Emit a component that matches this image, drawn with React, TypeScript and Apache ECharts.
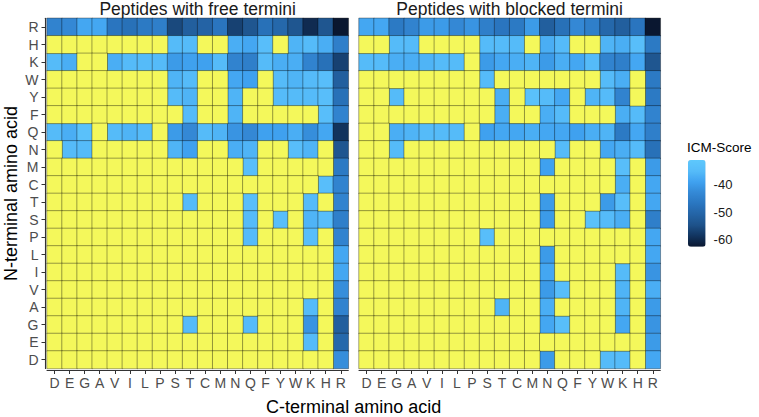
import React, { useEffect, useRef } from "react";
import * as echarts from "echarts";

// Amino acids in axis order (x: left→right, y: bottom→top)
const aminoAcids = ["D", "E", "G", "A", "V", "I", "L", "P", "S", "T", "C", "M", "N", "Q", "F", "Y", "W", "K", "H", "R"];

const _ = null;
// Rows listed from the top of the chart (N-terminal R) to the bottom (N-terminal D);
// columns follow aminoAcids (C-terminal D … R). null = no score (yellow cell).
const freeTermini: (number | null)[][] = [
  [-44, -43, -38, -38, -47, -48, -46, -45, -56, -52, -51, -47, -57, -54, -48, -50, -54, -60, -54, -63], // R
  [_, _, _, _, _, _, _, _, -35, -35, _, _, -37, -38, -34, _, -36, -35, -37, -45], // H
  [-35, -37, _, _, -37, -35, -35, -35, -40, -39, -39, -35, -44, -45, -35, -37, -37, -44, -48, -57], // K
  [_, _, _, _, _, _, _, _, -36, -35, _, _, -38, -39, _, -35, -36, -35, -34, -52], // W
  [_, _, _, _, _, _, _, _, -35, -36, _, _, -36, _, _, -35, -35, -35, -34, -48], // Y
  [_, _, _, _, _, _, _, _, _, -35, _, _, -36, _, _, _, _, _, -34, -44], // F
  [-35, -37, -33, _, -35, -36, -35, _, -40, -43, -35, -36, -41, -43, -39, -39, -37, -42, -38, -59], // Q
  [_, -35, -35, _, _, _, _, _, -36, -39, _, _, -37, -36, _, _, -34, -36, _, -54], // N
  [_, _, _, _, _, _, _, _, _, _, _, _, _, -34, _, _, _, _, _, -46], // M
  [_, _, _, _, _, _, _, _, _, _, _, _, _, _, _, _, _, _, -34, -44], // C
  [_, _, _, _, _, _, _, _, _, -35, _, _, _, -34, _, _, _, -35, _, -44], // T
  [_, _, _, _, _, _, _, _, _, _, _, _, _, -35, _, -34, _, -36, -34, -45], // S
  [_, _, _, _, _, _, _, _, _, _, _, _, _, -35, _, _, _, -34, _, -44], // P
  [_, _, _, _, _, _, _, _, _, _, _, _, _, _, _, _, _, _, _, -38], // L
  [_, _, _, _, _, _, _, _, _, _, _, _, _, _, _, _, _, _, _, -38], // I
  [_, _, _, _, _, _, _, _, _, _, _, _, _, _, _, _, _, _, _, -42], // V
  [_, _, _, _, _, _, _, _, _, _, _, _, _, _, _, _, _, -35, _, -44], // A
  [_, _, _, _, _, _, _, _, _, -35, _, _, _, -35, _, _, _, -41, _, -52], // G
  [_, _, _, _, _, _, _, _, _, _, _, _, _, _, _, _, _, -35, _, -50], // E
  [_, _, _, _, _, _, _, _, _, _, _, _, _, _, _, _, _, _, _, -42], // D
];

const blockedTermini: (number | null)[][] = [
  [-38, -38, -46, -44, -40, -40, -43, -41, -45, -47, -46, -40, -52, -48, -43, -45, -50, -52, -47, -63], // R
  [_, _, -35, -35, _, _, _, _, -35, -35, -35, _, -37, -35, _, _, -36, -37, -34, -46], // H
  [-35, -35, -37, -37, -36, -35, -35, _, -40, -38, -37, -36, -40, -37, -38, -35, -44, -45, -38, -54], // K
  [_, _, _, _, _, _, _, _, -35, _, _, _, _, _, _, _, -35, -37, _, -46], // W
  [_, _, -35, _, _, _, _, _, _, -37, _, -33, -35, -38, _, -36, -35, -44, _, -46], // Y
  [_, _, _, _, _, _, _, _, _, -37, _, _, -37, -35, _, _, _, -37, -35, -44], // F
  [_, _, -37, -36, -35, -35, -35, _, -39, -38, -38, -37, -38, -38, -39, -37, -36, -46, -38, -45], // Q
  [_, _, -35, _, _, _, _, _, _, _, _, _, _, -35, _, _, -38, -37, -35, -48], // N
  [_, _, _, _, _, _, _, _, _, _, _, _, -39, _, _, _, _, -34, _, -40], // M
  [_, _, _, _, _, _, _, _, _, _, _, _, _, _, _, _, _, -37, _, -38], // C
  [_, _, _, _, _, _, _, _, _, _, _, _, -40, _, _, _, -40, -34, _, -38], // T
  [_, _, _, _, _, _, _, _, _, _, _, _, -40, _, _, -33, -35, -37, _, -45], // S
  [_, _, _, _, _, _, _, _, -34, _, _, _, _, _, _, _, _, _, _, -38], // P
  [_, _, _, _, _, _, _, _, _, _, _, _, -40, _, _, _, _, _, _, -38], // L
  [_, _, _, _, _, _, _, _, _, _, _, _, -38, _, _, _, _, -35, _, -41], // I
  [_, _, _, _, _, _, _, _, _, _, _, _, -40, -34, _, _, _, -36, _, -37], // V
  [_, _, _, _, _, _, _, _, _, -36, _, _, -37, _, _, _, _, -36, _, -40], // A
  [_, _, _, _, _, _, _, _, _, _, _, _, -38, -34, _, _, _, -38, _, -41], // G
  [_, _, _, _, _, _, _, _, _, _, _, _, _, _, _, _, _, _, _, -40], // E
  [_, _, _, _, _, _, _, _, _, _, _, _, -40, _, _, _, -35, -35, _, -38], // D
];

const panelTitles = ["Peptides with free termini", "Peptides with blocked termini"];
const xAxisTitle = "C-terminal amino acid";
const yAxisTitle = "N-terminal amino acid";
const legendTitle = "ICM-Score";
const legendTicks = [-40, -50, -60];
const scoreMin = -62.8;
const scoreMax = -30.8;

const FONT = "'Liberation Sans', Arial, Helvetica, sans-serif";
const YELLOW = "#F4F85B";

function splitMatrix(matrix: (number | null)[][]) {
  const scores: number[][] = [];
  const missing: number[][] = [];
  const n = aminoAcids.length;
  matrix.forEach((row, r) => {
    const yIdx = n - 1 - r;
    row.forEach((v, c) => {
      if (v === null) missing.push([c, yIdx, 1]);
      else scores.push([c, yIdx, v]);
    });
  });
  return { scores, missing };
}

export default function App() {
  const ref = useRef<HTMLDivElement>(null);

  useEffect(() => {
    if (!ref.current) return;
    const chart = echarts.init(ref.current, undefined, { renderer: "svg" });

    const free = splitMatrix(freeTermini);
    const blocked = splitMatrix(blockedTermini);

    const gridTop = 18.3;
    const gridHeight = 350.2;
    const gridWidth = 301.3;
    const lefts = [47, 359];

    const barLeft = 688;
    const barTop = 160;
    const barW = 17.6;
    const barH = 86.7;
    const yOf = (v: number) => barTop + ((scoreMax - v) / (scoreMax - scoreMin)) * barH;

    const cellStyle = { borderColor: "rgba(0,0,0,0.5)", borderWidth: 0.7 };

    const xAxisBase = (gridIndex: number) => ({
      gridIndex,
      type: "category" as const,
      data: aminoAcids,
      position: "bottom" as const,
      offset: 1.5,
      axisLine: { show: true, onZero: false, lineStyle: { color: "#333333", width: 1.1 } },
      axisTick: { show: true, alignWithLabel: true, interval: 0, length: 4, lineStyle: { color: "#333333", width: 1 } },
      axisLabel: { interval: 0, fontSize: 14, color: "#4D4D4D", margin: 6, fontFamily: FONT },
      splitLine: { show: false },
    });

    const legendGraphics: any[] = [];
    legendTicks.forEach((t) => {
      const y = yOf(t);
      legendGraphics.push(
        { type: "line", shape: { x1: barLeft, y1: y, x2: barLeft + 3.5, y2: y }, style: { stroke: "#ffffff", lineWidth: 1 } },
        { type: "line", shape: { x1: barLeft + barW - 3.5, y1: y, x2: barLeft + barW, y2: y }, style: { stroke: "#ffffff", lineWidth: 1 } },
        {
          type: "text",
          x: barLeft + barW + 8,
          y,
          style: { text: String(t), fontSize: 13, fontFamily: FONT, fill: "#1A1A1A", align: "left", verticalAlign: "middle" },
        }
      );
    });

    const option: any = {
      animation: false,
      backgroundColor: "#ffffff",
      grid: lefts.map((l) => ({ left: l, top: gridTop, width: gridWidth, height: gridHeight, containLabel: false })),
      xAxis: [xAxisBase(0), xAxisBase(1)],
      yAxis: [
        {
          gridIndex: 0,
          type: "category",
          data: aminoAcids,
          offset: 1.5,
          axisLine: { show: true, onZero: false, lineStyle: { color: "#333333", width: 1.1 } },
          axisTick: { show: true, alignWithLabel: true, interval: 0, length: 4, lineStyle: { color: "#333333", width: 1 } },
          axisLabel: { interval: 0, fontSize: 14, color: "#4D4D4D", margin: 7, fontFamily: FONT },
          splitLine: { show: false },
        },
        {
          gridIndex: 1,
          type: "category",
          data: aminoAcids,
          axisLine: { show: false },
          axisTick: { show: false },
          axisLabel: { show: false },
          splitLine: { show: false },
        },
      ],
      visualMap: [
        {
          type: "continuous",
          seriesIndex: [0, 1],
          dimension: 2,
          min: scoreMin,
          max: scoreMax,
          calculable: false,
          hoverLink: false,
          show: true,
          left: barLeft,
          top: barTop,
          itemWidth: barW,
          itemHeight: barH,
          padding: 0,
          inRange: {
            color: ["#0A1730", "#12345F", "#1E528A", "#2464A6", "#2A76C0", "#3489D6", "#40A2F0", "#56BCF9", "#5EC8FC"],
          },
        },
        {
          type: "continuous",
          seriesIndex: [2, 3],
          dimension: 2,
          min: 0,
          max: 2,
          show: false,
          inRange: { color: [YELLOW, YELLOW] },
        },
      ],
      series: [
        { type: "heatmap", xAxisIndex: 0, yAxisIndex: 0, data: free.scores, itemStyle: cellStyle, emphasis: { disabled: true } },
        { type: "heatmap", xAxisIndex: 1, yAxisIndex: 1, data: blocked.scores, itemStyle: cellStyle, emphasis: { disabled: true } },
        { type: "heatmap", xAxisIndex: 0, yAxisIndex: 0, data: free.missing, itemStyle: cellStyle, emphasis: { disabled: true } },
        { type: "heatmap", xAxisIndex: 1, yAxisIndex: 1, data: blocked.missing, itemStyle: cellStyle, emphasis: { disabled: true } },
      ],
      graphic: [
        ...panelTitles.map((t, i) => ({
          type: "text",
          x: lefts[i] + gridWidth / 2,
          y: 9.3,
          style: { text: t, fontSize: 17.5, fontFamily: FONT, fill: "#1A1A1A", align: "center", verticalAlign: "middle" },
        })),
        {
          type: "text",
          x: (lefts[0] + lefts[1] + gridWidth) / 2,
          y: 407,
          style: { text: xAxisTitle, fontSize: 18, fontFamily: FONT, fill: "#000000", align: "center", verticalAlign: "middle" },
        },
        {
          type: "text",
          x: 11,
          y: gridTop + gridHeight / 2,
          rotation: Math.PI / 2,
          style: { text: yAxisTitle, fontSize: 18, fontFamily: FONT, fill: "#000000", align: "center", verticalAlign: "middle" },
        },
        {
          type: "text",
          x: barLeft - 1,
          y: 147,
          style: { text: legendTitle, fontSize: 13.5, fontFamily: FONT, fill: "#000000", align: "left", verticalAlign: "middle" },
        },
        ...legendGraphics,
      ],
    };

    chart.setOption(option);
    return () => chart.dispose();
  }, []);

  return <div ref={ref} style={{ position: "fixed", left: 0, top: 0, width: 759, height: 417 }} />;
}
